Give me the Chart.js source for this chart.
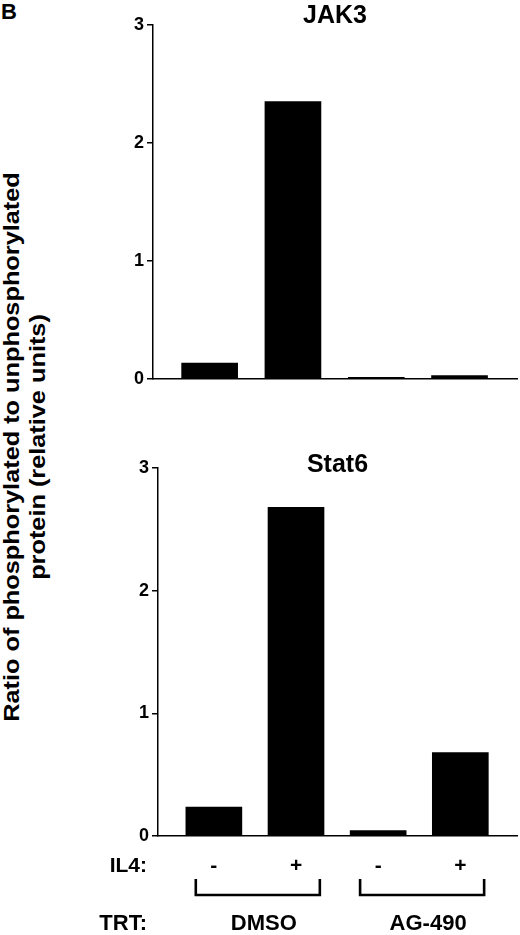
<!DOCTYPE html>
<html>
<head>
<meta charset="utf-8">
<script src="https://cdn.jsdelivr.net/npm/chart.js@4"></script>
<style>
  html, body { margin: 0; padding: 0; background: #fff; }
  body { width: 520px; height: 935px; position: relative; overflow: hidden; font-family: "Liberation Sans", Arial, sans-serif; }
  canvas { position: absolute; left: 0; }
  #panel { position: absolute; left: 1px; top: 0px; font: bold 22px "Liberation Sans", Arial, sans-serif; line-height: 24px; }
  #ytitle { position: absolute; width: 620px; left: -281px; top: 417px; height: 60px; line-height: 30px;
            text-align: center; font: bold 22px "Liberation Sans", Arial, sans-serif; transform: rotate(-90deg) scaleX(1.15); transform-origin: 50% 50%; white-space: nowrap; }
</style>
</head>
<body>
<div id="panel">B</div>
<div id="ytitle">Ratio of phosphorylated to unphosphorylated<br>protein (relative units)</div>
<canvas id="c1" width="520" height="400" style="top:0px"></canvas>
<canvas id="c2" width="520" height="535" style="top:400px"></canvas>
<script>
// ---- data ----
const il4Labels = ['-', '+', '-', '+'];
const treatments = ['DMSO', 'AG-490'];
const jak3Values = [0.135, 2.35, 0.015, 0.03];
const stat6Values = [0.235, 2.68, 0.045, 0.68];
const yTicks = [0, 1, 2, 3];

const FONT = '"Liberation Sans", Arial, sans-serif';

const overlay = {
  id: 'overlay',
  afterDraw(chart, args, opts) {
    const ctx = chart.ctx;
    const ca = chart.chartArea;
    const xs = chart.scales.x;
    ctx.save();
    ctx.fillStyle = '#000';
    ctx.textAlign = 'center';
    ctx.textBaseline = 'alphabetic';
    ctx.font = 'bold 25px ' + FONT;
    ctx.fillText(opts.title, (ca.left + ca.right) / 2, opts.titleY);
    if (opts.brackets) {
      ctx.textAlign = 'right';
      ctx.font = 'bold 21px ' + FONT;
      ctx.fillText('IL4:', 147, ca.bottom + 36);
      ctx.font = 'bold 22px ' + FONT;
      ctx.fillText('TRT:', 147, ca.bottom + 94);
      ctx.strokeStyle = '#000';
      ctx.lineWidth = 2.6;
      treatments.forEach((t, g) => {
        const x0 = xs.getPixelForValue(2 * g - 0.22);
        const x1 = xs.getPixelForValue(2 * g + 1.29);
        const yTop = ca.bottom + 43, yBot = ca.bottom + 59;
        ctx.beginPath();
        ctx.moveTo(x0, yTop); ctx.lineTo(x0, yBot); ctx.lineTo(x1, yBot); ctx.lineTo(x1, yTop);
        ctx.stroke();
        ctx.textAlign = 'center';
        ctx.font = 'bold 22px ' + FONT;
        ctx.fillText(t, (x0 + x1) / 2 + 6, ca.bottom + 94);
      });
    }
    ctx.restore();
  }
};

function makeChart(id, values, cfg) {
  return new Chart(document.getElementById(id), {
    type: 'bar',
    data: {
      datasets: [{
        data: values.map((v, i) => ({ x: i, y: v })),
        backgroundColor: '#000',
        borderWidth: 0,
        barThickness: 56
      }]
    },
    options: {
      responsive: false,
      animation: false,
      layout: { padding: { top: cfg.padTop, right: 3, left: 0, bottom: 0 } },
      plugins: { legend: { display: false }, tooltip: { enabled: false }, overlay: cfg.overlay },
      scales: {
        x: {
          type: 'linear',
          offset: false,
          min: -0.68, max: 3.69,
          afterBuildTicks: s => { s.ticks = il4Labels.map((_, i) => ({ value: i })); },
          afterFit: s => { s.height = cfg.xHeight; },
          grid: { display: false, drawTicks: false },
          border: { display: true, color: '#000', width: 1.5 },
          ticks: {
            display: cfg.showX,
            padding: 18,
            maxRotation: 0,
            autoSkip: false,
            color: '#000',
            font: { family: FONT, size: 21, weight: 'bold' },
            callback: v => il4Labels[v]
          }
        },
        y: {
          min: 0, max: 3,
          afterBuildTicks: s => { s.ticks = yTicks.map(v => ({ value: v })); },
          afterFit: s => { s.width = cfg.yWidth; },
          grid: { display: true, drawOnChartArea: false, drawTicks: true, tickLength: 6, color: '#000', lineWidth: 1.5 },
          border: { display: true, color: '#000', width: 1.5 },
          ticks: {
            padding: 3,
            color: '#000',
            font: { family: FONT, size: 18, weight: 'bold' },
            callback: v => String(v)
          }
        }
      }
    },
    plugins: [overlay]
  });
}

makeChart('c1', jak3Values, { padTop: 25, xHeight: 21, yWidth: 153, showX: false,
  overlay: { title: 'JAK3', titleY: 23, brackets: false } });
makeChart('c2', stat6Values, { padTop: 68, xHeight: 99, yWidth: 158, showX: true,
  overlay: { title: 'Stat6', titleY: 72, brackets: true } });
</script>
</body>
</html>
